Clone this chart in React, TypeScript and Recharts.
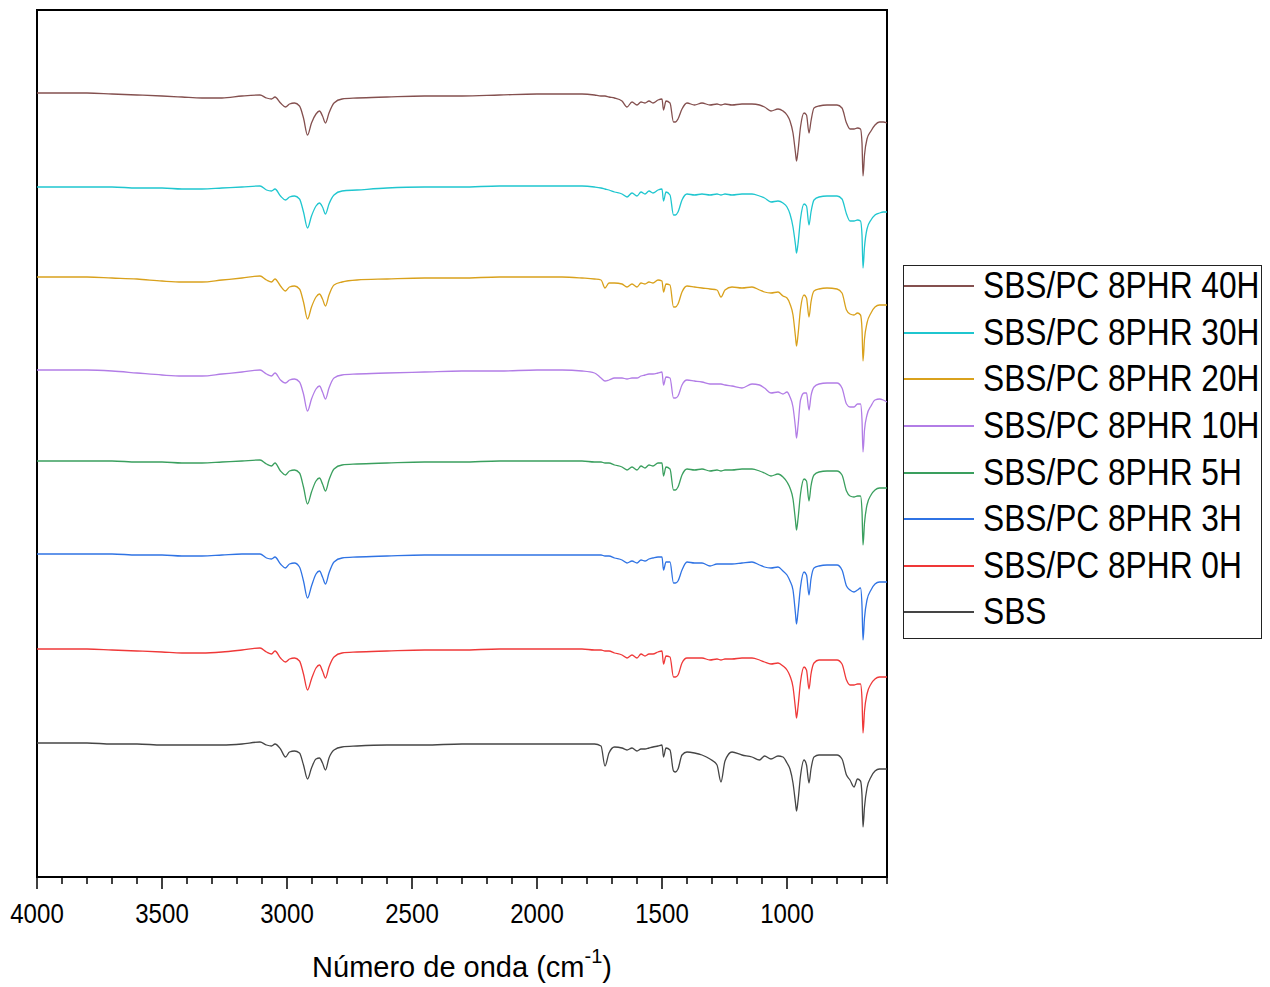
import React from 'react';
import { LineChart, Line, XAxis, YAxis, Legend, ReferenceArea } from 'recharts';

// Wavenumber grid (cm-1)
const WAVENUMBER = [
  4000, 3900, 3800, 3700, 3600, 3500, 3420, 3340, 3260, 3180,
  3108, 3082, 3062, 3048, 3026, 3006, 2990, 2970, 2950, 2934,
  2918, 2902, 2884, 2870, 2858, 2846, 2832, 2812, 2780, 2720,
  2600, 2450, 2300, 2150, 2000, 1900, 1820, 1770, 1744, 1728,
  1712, 1690, 1660, 1640, 1620, 1600, 1584, 1568, 1552, 1536,
  1516, 1500, 1494, 1484, 1468, 1454, 1446, 1436, 1420, 1400,
  1370, 1340, 1308, 1280, 1264, 1248, 1220, 1180, 1140, 1110,
  1090, 1064, 1036, 1016, 1000, 988, 976, 966, 962, 956,
  946, 932, 922, 912, 904, 892, 872, 840, 800, 780,
  762, 748, 732, 718, 706, 700, 696, 690, 680, 664,
  648, 630, 615, 600,
];

// Relative transmittance (arbitrary units) of each spectrum
const T_40H = [
  0, 0, 0, -1, -2, -3, -4, -5, -5, -3,
  -2, -5, -6, -4, -10, -14, -11, -10, -13, -25,
  -42, -30, -21, -18, -23, -30, -20, -10, -6, -5,
  -4, -3, -3, -2, -1, -1, -1, -2, -3, -3,
  -4, -5, -8, -14, -9, -12, -9, -10, -8, -10,
  -7, -6, -17, -8, -10, -29, -29, -26, -16, -10,
  -12, -10, -12, -11, -12, -11, -12, -11, -11, -12,
  -14, -18, -16, -18, -22, -28, -40, -60, -68, -58,
  -34, -20, -22, -40, -28, -15, -13, -12, -12, -15,
  -30, -36, -36, -35, -36, -50, -83, -62, -46, -38,
  -32, -29, -29, -30,
];
const T_30H = [
  0, 0, 0, 0, -1, -1, -2, -2, -1, 0,
  1, -3, -4, -2, -9, -13, -10, -9, -12, -25,
  -41, -29, -19, -16, -20, -27, -17, -8, -4, -3,
  -1, 0, 0, 1, 1, 1, 1, 0, -1, -2,
  -3, -5, -7, -10, -6, -9, -5, -7, -4, -6,
  -3, -2, -14, -5, -8, -28, -28, -25, -13, -7,
  -8, -7, -8, -7, -8, -7, -8, -7, -7, -9,
  -11, -15, -14, -16, -20, -27, -40, -58, -66, -57,
  -32, -17, -19, -38, -25, -13, -10, -9, -9, -12,
  -27, -34, -34, -33, -34, -48, -81, -60, -42, -33,
  -28, -26, -25, -25,
];
const T_20H = [
  0, 0, 0, -1, -2, -4, -5, -5, -3, -1,
  1, -3, -5, -2, -9, -14, -10, -9, -12, -25,
  -42, -30, -20, -17, -22, -29, -18, -8, -5, -3,
  -2, -1, -1, 0, 0, 0, -1, -2, -3, -11,
  -6, -6, -7, -10, -7, -10, -6, -7, -5, -6,
  -3, -4, -15, -7, -8, -30, -30, -27, -15, -9,
  -10, -11, -12, -13, -20, -13, -10, -11, -10, -13,
  -15, -16, -15, -19, -21, -27, -38, -60, -69, -58,
  -32, -18, -21, -40, -25, -14, -12, -11, -12, -16,
  -33, -37, -38, -36, -38, -52, -84, -62, -46, -36,
  -30, -28, -28, -28,
];
const T_10H = [
  0, 0, 0, -1, -3, -5, -6, -6, -4, -2,
  0, -4, -6, -3, -10, -13, -10, -9, -12, -24,
  -41, -29, -19, -16, -22, -29, -18, -8, -5, -4,
  -3, -2, -1, -1, 0, 0, -1, -3, -8, -11,
  -10, -8, -8, -9, -8, -8, -6, -5, -4, -4,
  -3, -2, -15, -7, -8, -28, -28, -26, -15, -10,
  -11, -12, -14, -14, -14, -15, -16, -18, -14, -15,
  -18, -23, -22, -24, -22, -27, -37, -58, -68, -56,
  -30, -23, -23, -40, -26, -17, -14, -13, -13, -18,
  -34, -37, -37, -34, -34, -50, -82, -60, -45, -36,
  -30, -29, -30, -32,
];
const T_5H = [
  0, 0, 0, 0, -1, -1, -2, -2, -1, 0,
  1, -3, -5, -2, -10, -14, -10, -9, -12, -26,
  -43, -31, -20, -17, -23, -30, -19, -8, -4, -3,
  -2, -1, -1, 0, 0, 0, 0, -1, -1, -2,
  -2, -4, -6, -9, -6, -9, -5, -7, -4, -5,
  -2, -2, -15, -6, -8, -29, -29, -26, -14, -8,
  -9, -8, -10, -9, -10, -9, -9, -8, -8, -10,
  -12, -15, -13, -16, -21, -27, -38, -60, -69, -58,
  -33, -18, -20, -40, -25, -14, -11, -10, -10, -14,
  -30, -35, -36, -35, -35, -50, -84, -62, -44, -34,
  -29, -27, -27, -27,
];
const T_3H = [
  0, 0, 0, 0, -1, -1, -2, -2, -1, 0,
  0, -4, -5, -3, -10, -14, -10, -9, -13, -27,
  -44, -32, -20, -17, -23, -30, -19, -8, -4, -3,
  -2, -1, -1, -1, -1, -1, -1, -1, -1, -2,
  -2, -4, -6, -9, -7, -9, -6, -7, -5, -4,
  -3, -3, -16, -8, -8, -29, -29, -27, -16, -8,
  -9, -9, -12, -10, -10, -10, -10, -9, -8, -11,
  -13, -14, -13, -17, -21, -27, -36, -60, -70, -58,
  -33, -18, -21, -41, -25, -14, -12, -11, -11, -16,
  -32, -36, -38, -36, -34, -52, -86, -64, -46, -36,
  -30, -28, -28, -28,
];
const T_0H = [
  0, 0, 0, -1, -2, -3, -4, -4, -3, -1,
  1, -3, -5, -2, -9, -13, -10, -9, -12, -25,
  -41, -30, -19, -16, -22, -29, -18, -8, -4, -3,
  -2, -1, -1, 0, 0, 0, 0, -1, -1, -2,
  -2, -4, -6, -9, -6, -9, -5, -7, -5, -5,
  -3, -2, -15, -7, -8, -28, -28, -26, -14, -9,
  -9, -9, -11, -10, -11, -10, -10, -9, -9, -11,
  -13, -15, -14, -17, -21, -27, -38, -60, -69, -58,
  -33, -18, -21, -40, -25, -14, -11, -11, -11, -15,
  -31, -36, -36, -35, -35, -50, -84, -62, -45, -35,
  -30, -28, -28, -28,
];
const T_SBS = [
  0, 0, 0, -1, -1, -2, -2, -2, -2, -1,
  1, -2, -3, -1, -6, -14, -9, -8, -10, -22,
  -36, -25, -16, -15, -20, -27, -15, -7, -4, -3,
  -2, -2, -1, -1, -1, -1, -1, -1, -3, -23,
  -10, -4, -5, -7, -5, -8, -6, -6, -5, -4,
  -3, -2, -14, -5, -7, -28, -29, -26, -12, -9,
  -10, -12, -16, -22, -39, -18, -9, -12, -14, -17,
  -13, -16, -13, -14, -20, -26, -40, -60, -68, -58,
  -33, -17, -22, -40, -26, -14, -12, -12, -12, -16,
  -32, -37, -44, -36, -38, -52, -84, -64, -45, -34,
  -28, -26, -26, -26,
];

// Vertical stacking offsets of each spectrum
const OFFSETS = [784, 690, 600, 507, 416, 323, 228, 134];
const SERIES_NAMES = [
  'SBS/PC 8PHR 40H',
  'SBS/PC 8PHR 30H',
  'SBS/PC 8PHR 20H',
  'SBS/PC 8PHR 10H',
  'SBS/PC 8PHR 5H',
  'SBS/PC 8PHR 3H',
  'SBS/PC 8PHR 0H',
  'SBS',
];
const SERIES_VALUES = [T_40H, T_30H, T_20H, T_10H, T_5H, T_3H, T_0H, T_SBS];
const COLORS = ['#84504f', '#1fc6cf', '#d9a11c', '#b27de6', '#3a9f5e', '#2f73e4', '#ef3838', '#454545'];

const X_TICKS = [
  4000, 3900, 3800, 3700, 3600, 3500, 3400, 3300, 3200, 3100,
  3000, 2900, 2800, 2700, 2600, 2500, 2400, 2300, 2200, 2100,
  2000, 1900, 1800, 1700, 1600, 1500, 1400, 1300, 1200, 1100,
  1000, 900, 800, 700, 600,
];
const MAJOR_STEP = 500;

const data = WAVENUMBER.map((wn, i) => {
  const row: Record<string, number> = { wn };
  SERIES_VALUES.forEach((vals, s) => {
    row['s' + s] = OFFSETS[s] + vals[i];
  });
  return row;
});

const FONT = "'Liberation Sans', Arial, sans-serif";

const XTick = (props: any) => {
  const { x, y, payload } = props;
  const v = payload.value;
  const major = v % MAJOR_STEP === 0 && v >= 1000;
  return (
    <g>
      <line x1={x} x2={x} y1={y} y2={y + (major ? 12 : 7)} stroke="#000" strokeWidth={1.5} />
      {major && (
        <text
          transform={`translate(${x},${y + 46}) scale(0.86,1)`}
          textAnchor="middle"
          fontSize={28}
          fontFamily={FONT}
          fill="#000"
        >
          {v}
        </text>
      )}
    </g>
  );
};

const XTitle = (props: any) => {
  const vb = props.viewBox || {};
  const cx = vb.x + vb.width / 2;
  const by = vb.y + 100;
  return (
    <text x={cx} y={by} textAnchor="middle" fontSize={29} fontFamily={FONT} fill="#000">
      <tspan>Número de onda (cm</tspan>
      <tspan fontSize={20} dy={-14}>-1</tspan>
      <tspan dy={14}>)</tspan>
    </text>
  );
};

const LegendContent = (props: any) => {
  const payload = [...(props.payload || [])].sort(
    (a: any, b: any) => SERIES_NAMES.indexOf(a.value) - SERIES_NAMES.indexOf(b.value)
  );
  return (
    <div style={{ paddingLeft: 16 }}>
      <div
        style={{
          border: '1px solid #222',
          width: 357,
          height: 372,
          boxSizing: 'content-box',
          background: '#fff',
          overflow: 'hidden',
        }}
      >
        <div style={{ marginTop: -3 }}>
          {payload.map((item: any) => {
            const idx = SERIES_NAMES.indexOf(item.value);
            const color = idx >= 0 ? COLORS[idx] : item.color;
            return (
              <div
                key={item.value}
                style={{ height: 46.6, display: 'flex', alignItems: 'center', width: 600 }}
              >
                <div
                  style={{
                    width: 70,
                    flexShrink: 0,
                    height: 2,
                    background: color,
                  }}
                />
                <span
                  style={{
                    marginLeft: 9,
                    flexShrink: 0,
                    fontSize: 36,
                    fontFamily: FONT,
                    lineHeight: 1,
                    display: 'inline-block',
                    whiteSpace: 'nowrap',
                    transform: 'scaleX(0.88)',
                    transformOrigin: 'left center',
                    color: '#000',
                  }}
                >
                  {item.value}
                </span>
              </div>
            );
          })}
        </div>
      </div>
    </div>
  );
};

export default function App() {
  return (
    <div style={{ width: 1254, height: 979, background: '#fff' }}>
      <LineChart
        width={1254}
        height={979}
        data={data}
        margin={{ top: 2, right: 0, bottom: 0, left: 29 }}
      >
        <XAxis
          dataKey="wn"
          type="number"
          domain={[600, 4000]}
          reversed
          ticks={X_TICKS}
          interval={0}
          tickLine={false}
          tickSize={0}
          tickMargin={0}
          tick={<XTick />}
          height={110}
          axisLine={{ stroke: '#000', strokeWidth: 2 }}
          allowDataOverflow
          label={<XTitle />}
        />
        <YAxis type="number" domain={[0, 867]} hide allowDataOverflow />
        <ReferenceArea
          x1={4000}
          x2={600}
          y1={0}
          y2={867}
          fill="none"
          fillOpacity={0}
          stroke="#000"
          strokeWidth={2}
          ifOverflow="visible"
        />
        <Legend
          layout="vertical"
          align="right"
          verticalAlign="top"
          width={375}
          itemSorter={(item: any) => SERIES_NAMES.indexOf(item.value)}
          wrapperStyle={{ top: 257, right: 0, width: 375 }}
          content={<LegendContent />}
        />
        {SERIES_NAMES.map((name, s) => (
          <Line
            key={name}
            dataKey={'s' + s}
            name={name}
            stroke={COLORS[s]}
            strokeWidth={1.3}
            dot={false}
            activeDot={false}
            type="monotone"
            isAnimationActive={false}
          />
        ))}
      </LineChart>
    </div>
  );
}
